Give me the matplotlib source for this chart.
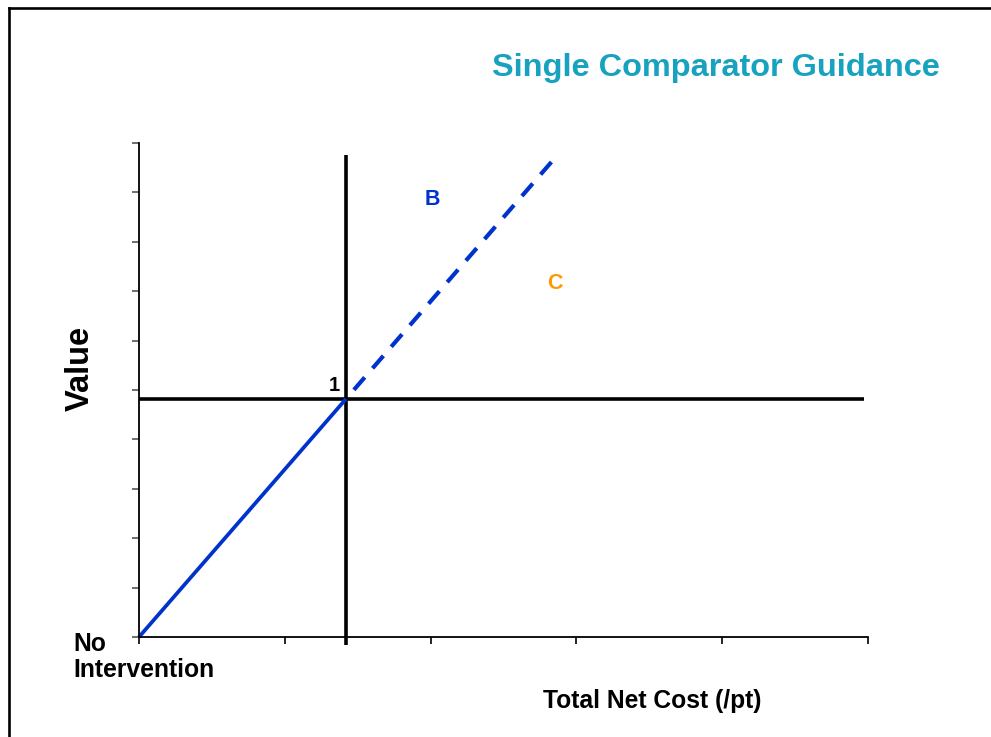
import matplotlib.pyplot as plt
from matplotlib.lines import Line2D

plt.rcParams['font.family'] = ['Liberation Sans', 'DejaVu Sans']

# axis grid (unlabelled ticks)
x_ticks = [0, 1, 2, 3, 4, 5]
y_ticks = [0, 1, 2, 3, 4, 5, 6, 7, 8, 9, 10]

# reference cross at comparator "1"
comp_x = 1.42
comp_y = 4.82
vline_y = [-0.16, 9.76]
hline_x = [0, 4.97]

# threshold line: solid up to comparator, dashed beyond
solid_x = [0, 1.42]
solid_y = [0, 4.82]
dash_x = [1.42, 2.83]
dash_y = [4.82, 9.62]

W, H = 991, 737
fig = plt.figure(figsize=(W / 100, H / 100), dpi=100)
ax = fig.add_axes([139 / W, (H - 637) / H, (868 - 139) / W, (637 - 143) / H])

blue = '#0033cc'
ax.plot([comp_x, comp_x], vline_y, color='black', lw=2.6, clip_on=False, solid_capstyle='butt')
ax.plot(hline_x, [comp_y, comp_y], color='black', lw=2.6, clip_on=False, solid_capstyle='butt')
ax.plot(solid_x, solid_y, color=blue, lw=2.7, clip_on=False, solid_capstyle='butt')
# start on a gap so the pattern ends on a full dash
ax.plot(dash_x, dash_y, color=blue, lw=3.0, linestyle=(3.96, (3.96, 2.88)), clip_on=False)

ax.set_xlim(0, 5)
ax.set_ylim(0, 10)
ax.set_xticks(x_ticks)
ax.set_yticks(y_ticks)
ax.set_xticklabels([])
ax.set_yticklabels([])
ax.tick_params(axis='y', direction='out', length=5, width=1.2, color='#555555')
ax.tick_params(axis='x', direction='out', length=5, width=1.2, color='black')
for s in ['top', 'right']:
    ax.spines[s].set_visible(False)
for s in ['left', 'bottom']:
    ax.spines[s].set_linewidth(1.3)

ax.text(comp_x - 0.04, comp_y + 0.08, '1', ha='right', va='bottom', fontsize=14.5, fontweight='bold')
ax.text(2.01, 8.85, 'B', color=blue, ha='center', va='center', fontsize=15.5, fontweight='bold')
ax.text(2.85, 7.15, 'C', color='#ff9900', ha='center', va='center', fontsize=15.5, fontweight='bold')

fig.text(716 / W, 1 - 68 / H, 'Single Comparator Guidance', color='#17a2c0',
         ha='center', va='center', fontsize=23.4, fontweight='bold')
fig.text(80 / W, 1 - 368 / H, 'Value', rotation=90, ha='center', va='center',
         fontsize=23.5, fontweight='bold')
fig.text(73 / W, 1 - 632 / H, 'No\nIntervention', ha='left', va='top',
         fontsize=17.8, fontweight='bold', linespacing=1.12)
fig.text(652 / W, 1 - 701 / H, 'Total Net Cost (/pt)', ha='center', va='center',
         fontsize=17.7, fontweight='bold')

# outer frame (left and top edges visible)
fig.add_artist(Line2D([9 / W, 9 / W], [0, 1 - 8 / H], color='black', lw=1.9, transform=fig.transFigure))
fig.add_artist(Line2D([9 / W, 1], [1 - 8 / H, 1 - 8 / H], color='black', lw=1.9, transform=fig.transFigure))

fig.savefig('out.png', dpi=100)
